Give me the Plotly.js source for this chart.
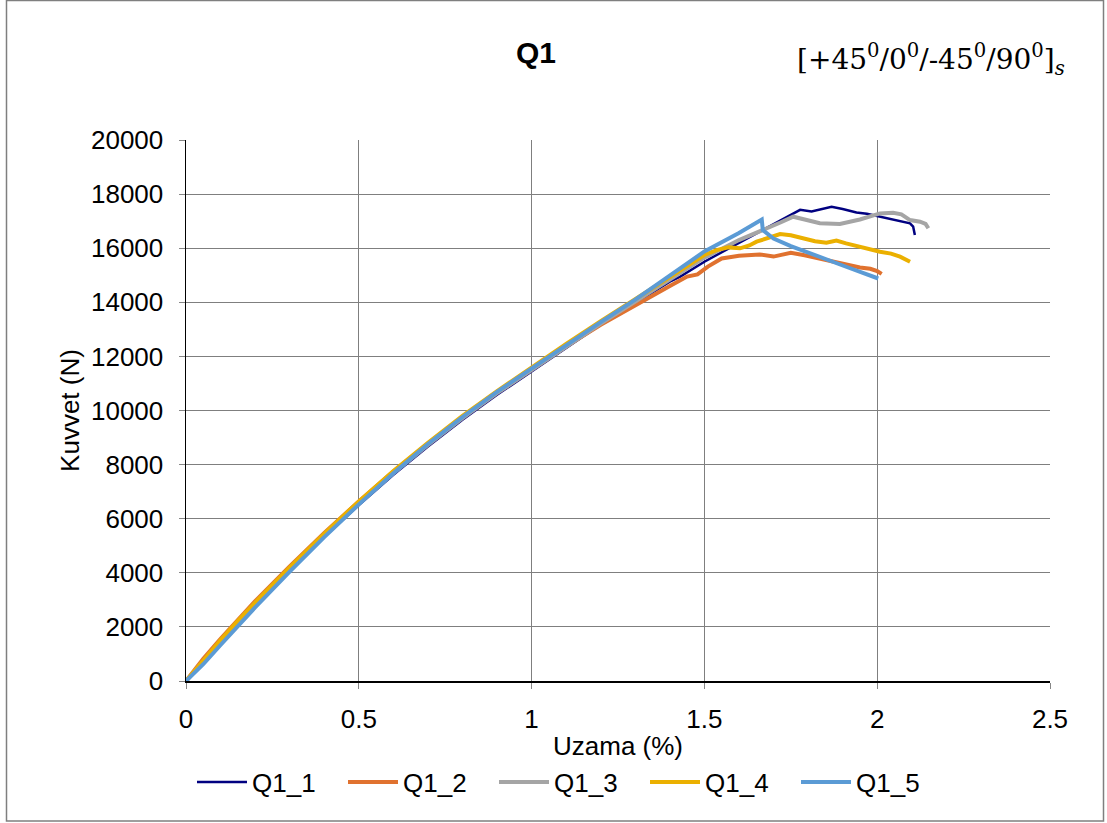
<!DOCTYPE html>
<html>
<head>
<meta charset="utf-8">
<script src="https://cdn.plot.ly/plotly-3.0.1.min.js"></script>
<style>
html,body{margin:0;padding:0;background:#fff;}
#chart{width:1107px;height:823px;}
</style>
</head>
<body>
<div id="chart"></div>
<script>
// ---- Data ----
const seriesNames = ["Q1_1", "Q1_2", "Q1_3", "Q1_4", "Q1_5"];

const x1 = [0, 0.05, 0.1, 0.15, 0.2, 0.3, 0.4, 0.5, 0.6, 0.7, 0.8, 0.9, 1.0, 1.1, 1.2, 1.3, 1.4, 1.43, 1.5, 1.6, 1.7, 1.75, 1.777, 1.81, 1.84, 1.868, 1.9, 1.94, 1.97, 2.008, 2.05, 2.08, 2.095, 2.104, 2.109];
const y1 = [0, 700, 1400, 2100, 2780, 4080, 5330, 6500, 7620, 8670, 9660, 10580, 11450, 12330, 13180, 13980, 14760, 14950, 15500, 16200, 16900, 17250, 17420, 17360, 17450, 17530, 17450, 17320, 17270, 17170, 17060, 16980, 16920, 16800, 16490];

const x2 = [0, 0.05, 0.1, 0.15, 0.2, 0.3, 0.4, 0.5, 0.6, 0.7, 0.8, 0.9, 1.0, 1.1, 1.2, 1.3, 1.35, 1.4, 1.45, 1.48, 1.51, 1.55, 1.6, 1.64, 1.66, 1.7, 1.75, 1.79, 1.83, 1.87, 1.91, 1.95, 1.98, 2.0, 2.013];
const y2 = [0, 820, 1560, 2260, 2950, 4240, 5470, 6640, 7740, 8780, 9750, 10660, 11520, 12370, 13170, 13900, 14250, 14600, 14950, 15030, 15320, 15620, 15720, 15750, 15770, 15690, 15830, 15740, 15630, 15520, 15390, 15290, 15240, 15150, 15050];

const x3 = [0, 0.05, 0.1, 0.15, 0.2, 0.3, 0.4, 0.5, 0.6, 0.7, 0.8, 0.9, 1.0, 1.1, 1.2, 1.3, 1.4, 1.5, 1.6, 1.66, 1.72, 1.757, 1.8, 1.834, 1.892, 1.95, 2.008, 2.046, 2.07, 2.095, 2.124, 2.14, 2.148];
const y3 = [0, 740, 1450, 2150, 2830, 4130, 5380, 6560, 7680, 8730, 9720, 10640, 11500, 12370, 13210, 14030, 14830, 15650, 16300, 16610, 16950, 17165, 17030, 16920, 16895, 17060, 17285, 17310, 17250, 17040, 16980, 16900, 16735];

const x4 = [0, 0.05, 0.1, 0.15, 0.2, 0.3, 0.4, 0.5, 0.6, 0.7, 0.8, 0.9, 1.0, 1.1, 1.2, 1.3, 1.4, 1.5, 1.535, 1.57, 1.603, 1.63, 1.651, 1.69, 1.719, 1.75, 1.785, 1.82, 1.853, 1.882, 1.91, 1.94, 1.975, 2.008, 2.04, 2.066, 2.095];
const y4 = [0, 780, 1510, 2220, 2900, 4200, 5450, 6640, 7760, 8810, 9800, 10720, 11600, 12460, 13300, 14110, 14900, 15750, 15930, 16030, 15995, 16100, 16240, 16420, 16525, 16480, 16360, 16260, 16200, 16280, 16180, 16080, 15960, 15870, 15800, 15685, 15500];

const x5 = [0, 0.05, 0.1, 0.15, 0.2, 0.3, 0.4, 0.5, 0.6, 0.7, 0.8, 0.9, 1.0, 1.1, 1.2, 1.3, 1.4, 1.43, 1.5, 1.6, 1.666, 1.669, 1.70, 1.75, 1.816, 1.912, 2.003];
const y5 = [0, 620, 1330, 2030, 2720, 4040, 5320, 6530, 7680, 8760, 9760, 10690, 11560, 12420, 13270, 14100, 14980, 15250, 15880, 16560, 17060, 16670, 16360, 16080, 15750, 15305, 14880];

const xTicks = [0, 0.5, 1, 1.5, 2, 2.5];
const xTickLabels = ["0", "0.5", "1", "1.5", "2", "2.5"];
const yTicks = [0, 2000, 4000, 6000, 8000, 10000, 12000, 14000, 16000, 18000, 20000];
const yTickLabels = ["0", "2000", "4000", "6000", "8000", "10000", "12000", "14000", "16000", "18000", "20000"];

const chartTitle = "Q1";
const layupLabel = "[+45<sup>0</sup>/0<sup>0</sup>/-45<sup>0</sup>/90<sup>0</sup>]<sub><i>s</i></sub>";
const xTitle = "Uzama (%)";
const yTitle = "Kuvvet (N)";

// ---- Styling ----
const colors = ["#000080", "#E0722F", "#A5A5A5", "#EBB000", "#5B9BD5"];
const widths = [2.5, 4, 4, 4, 4];
const xs = [x1, x2, x3, x4, x5];
const ys = [y1, y2, y3, y4, y5];

const font = "Liberation Sans, Arial, sans-serif";
const fs = 26;

const traces = seriesNames.map((n, i) => ({
  type: "scatter",
  mode: "lines",
  name: n,
  x: xs[i],
  y: ys[i],
  line: {color: colors[i], width: widths[i]},
  hoverinfo: "skip"
}));

const L = 186, R = 1050, T = 140, B = 681;
const pw = R - L, ph = B - T;
const px = v => (v - L) / pw;
const py = v => (B - v) / ph;

const layout = {
  width: 1107,
  height: 823,
  margin: {l: L, r: 1107 - R, t: T, b: 823 - B, pad: 0, autoexpand: false},
  paper_bgcolor: "#ffffff",
  plot_bgcolor: "#ffffff",
  font: {family: font, size: fs, color: "#000"},
  title: {
    text: "<b>" + chartTitle + "</b>",
    font: {family: font, size: 30, color: "#000"},
    x: 536 / 1107, xref: "container", xanchor: "center",
    y: 1 - 52 / 823, yref: "container", yanchor: "middle"
  },
  xaxis: {
    range: [0, 2.5],
    tickvals: xTicks,
    ticktext: xTickLabels,
    ticks: "outside",
    ticklen: 6,
    tickcolor: "#868686",
    ticklabelstandoff: 8,
    tickfont: {family: font, size: fs, color: "#000"},
    showline: true,
    linecolor: "#000",
    linewidth: 1.5,
    showgrid: true,
    gridcolor: "#7f7f7f",
    gridwidth: 1,
    zeroline: false,
    automargin: false,
    title: {text: xTitle, font: {family: font, size: fs, color: "#000"}, standoff: 4},
    fixedrange: true
  },
  yaxis: {
    range: [0, 20000],
    tickvals: yTicks,
    ticktext: yTickLabels,
    ticks: "outside",
    ticklen: 6,
    tickcolor: "#868686",
    ticklabelstandoff: 10,
    tickfont: {family: font, size: fs, color: "#000"},
    showline: true,
    linecolor: "#000",
    linewidth: 1.5,
    showgrid: true,
    gridcolor: "#7f7f7f",
    gridwidth: 1,
    zeroline: false,
    automargin: false,
    title: {text: yTitle, font: {family: font, size: fs, color: "#000"}, standoff: 4},
    fixedrange: true
  },
  showlegend: true,
  legend: {
    orientation: "h",
    x: px(192), xanchor: "left",
    y: py(782), yanchor: "middle",
    font: {family: font, size: fs, color: "#000"},
    itemwidth: 50,
    entrywidth: 86,
    entrywidthmode: "pixels",
    bgcolor: "rgba(0,0,0,0)",
    traceorder: "normal"
  },
  annotations: [{
    text: layupLabel,
    xref: "paper", yref: "paper",
    x: px(931), y: py(60),
    xanchor: "center", yanchor: "middle",
    showarrow: false,
    font: {family: "DejaVu Serif, Liberation Serif, serif", size: 28, color: "#000"}
  }],
  shapes: [{
    type: "rect", xref: "paper", yref: "paper",
    x0: px(6.5), x1: px(1103.5), y0: py(821), y1: py(0.5),
    line: {color: "#7f7f7f", width: 1.5},
    fillcolor: "rgba(0,0,0,0)",
    layer: "below"
  }]
};

Plotly.newPlot("chart", traces, layout, {displayModeBar: false, staticPlot: true});
</script>
</body>
</html>
